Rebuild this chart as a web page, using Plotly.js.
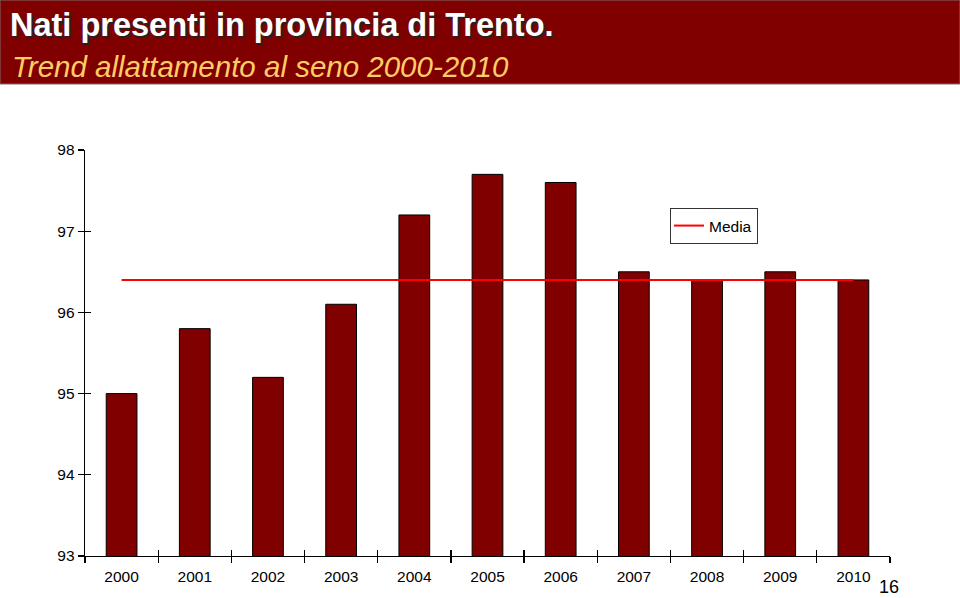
<!DOCTYPE html>
<html><head><meta charset="utf-8">
<script src="https://cdn.plot.ly/plotly-3.0.1.min.js"></script>
<style>html,body{margin:0;padding:0;background:#fff}#chart{width:960px;height:598px}</style>
</head><body><div id="chart"></div>
<script>
const years = ['2000','2001','2002','2003','2004','2005','2006','2007','2008','2009','2010'];
const values = [95.0, 95.8, 95.2, 96.1, 97.2, 97.7, 97.6, 96.5, 96.4, 96.5, 96.4];
const media = [96.4, 96.4, 96.4, 96.4, 96.4, 96.4, 96.4, 96.4, 96.4, 96.4, 96.4];
const yTicks = [93, 94, 95, 96, 97, 98];
const titleText = 'Nati presenti in provincia di Trento.';
const subtitleText = 'Trend allattamento al seno 2000-2010';
const pageNumber = '16';

const FONT = 'Liberation Sans, Arial, sans-serif';
const traces = [
  {type:'bar', x: years, y: values, marker:{color:'#800000', line:{color:'#000', width:1}}, showlegend:false, hoverinfo:'x+y'},
  {type:'scatter', mode:'lines', x: years, y: media, name:'Media', line:{color:'#FF0000', width:2}},
  {type:'scatter', mode:'lines', x: years, y: media, xaxis:'x2', yaxis:'y2', showlegend:false, line:{width:0}, hoverinfo:'skip'}
];
const W = 805, H = 406;
const layout = {
  width:960, height:598,
  margin:{l:85, r:70, t:150, b:42},
  paper_bgcolor:'#fff', plot_bgcolor:'rgba(0,0,0,0)',
  font:{family:FONT, size:15.5, color:'#000'},
  bargap:0.58,
  xaxis:{type:'category', showline:true, linecolor:'#000', linewidth:1.3, ticks:'outside', ticklen:6, tickwidth:1.3, tickcolor:'#000', tickson:'boundaries', showgrid:false, zeroline:false, tickfont:{size:15.5}, ticklabelstandoff:6, fixedrange:true},
  yaxis:{range:[93,98], tickvals:yTicks, showline:true, linecolor:'#000', linewidth:1.3, ticks:'outside', ticklen:6, tickwidth:1.3, tickcolor:'#000', showgrid:false, zeroline:false, tickfont:{size:15.5}, ticklabelstandoff:0, fixedrange:true},
  xaxis2:{type:'category', overlaying:'x', matches:'x', showline:false, ticks:'inside', ticklen:6, tickwidth:1.3, tickcolor:'#000', tickson:'boundaries', showticklabels:false, showgrid:false, zeroline:false},
  yaxis2:{overlaying:'y', range:[93,98], tickvals:yTicks, ticks:'inside', ticklen:6, tickwidth:1.3, tickcolor:'#000', showticklabels:false, showgrid:false, zeroline:false, showline:false},
  legend:{x:(670-85)/W, y:(556-208)/H, xanchor:'left', yanchor:'top', bordercolor:'#333', borderwidth:1, bgcolor:'#fff', font:{size:15.5}, itemwidth:30, tracegroupgap:0, indentation:-2},
  shapes:[
    {type:'rect', xref:'paper', yref:'paper', x0:-85/W, x1:(960-85)/W, y0:(556-84)/H, y1:556/H, fillcolor:'#800000', line:{color:'#7a6a6a', width:1}, layer:'below'}
  ],
  annotations:[
    {xref:'paper', yref:'paper', x:-77/W, y:(556-5)/H, xanchor:'left', yanchor:'top', showarrow:false, text:'<b>'+titleText+'</b>', font:{family:FONT, size:32.5, color:'#fff', shadow:'2px 2px 1px #222'}},
    {xref:'paper', yref:'paper', x:-75/W, y:(556-48)/H, xanchor:'left', yanchor:'top', showarrow:false, text:'<i>'+subtitleText+'</i>', font:{family:FONT, size:29.5, color:'#FFCC66'}},
    {xref:'paper', yref:'paper', x:(889-85)/W, y:(556-599)/H, xanchor:'center', yanchor:'bottom', showarrow:false, text:pageNumber, font:{family:FONT, size:18, color:'#000'}}
  ]
};
Plotly.newPlot('chart', traces, layout, {displayModeBar:false, staticPlot:true});
</script></body></html>
